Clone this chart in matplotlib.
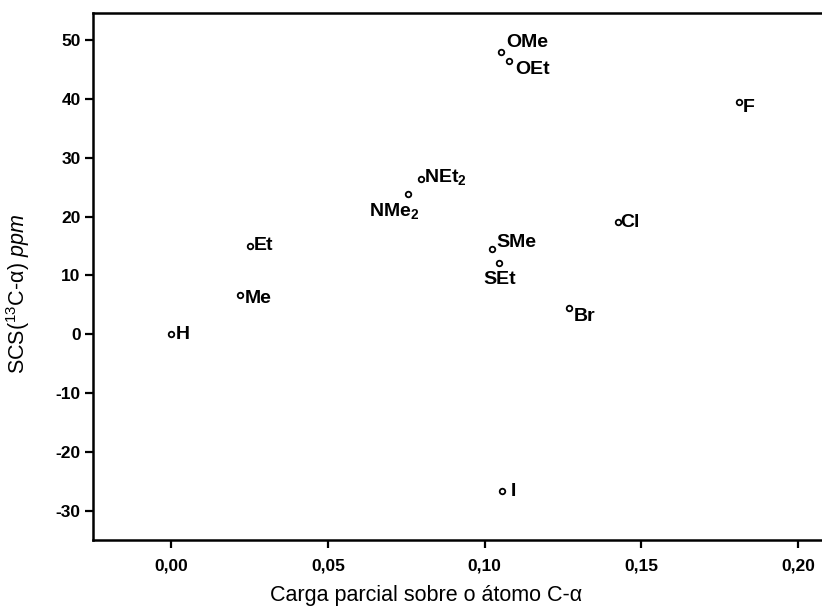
import matplotlib
matplotlib.use("Agg")
import matplotlib.pyplot as plt

plt.rcParams['font.family'] = ['Liberation Sans', 'DejaVu Sans']
plt.rcParams['mathtext.fontset'] = 'custom'
plt.rcParams['mathtext.rm'] = 'Liberation Sans'
plt.rcParams['mathtext.it'] = 'Liberation Sans:italic'
plt.rcParams['mathtext.bf'] = 'Liberation Sans:bold'
plt.rcParams['axes.unicode_minus'] = False

# substituent data: partial charge on C-alpha vs SCS(13C-alpha)
labels = ['H', 'Me', 'Et', r'NMe$_\mathbf{2}$', r'NEt$_\mathbf{2}$', 'OMe', 'OEt',
          'F', 'Cl', 'SMe', 'SEt', 'Br', 'I']
charge = [0.000, 0.022, 0.025, 0.0756, 0.0798, 0.1052, 0.1078,
          0.181, 0.1424, 0.1024, 0.1047, 0.127, 0.1055]
scs = [0.0, 6.6, 15.0, 23.9, 26.4, 47.9, 46.4,
       39.4, 19.0, 14.4, 12.1, 4.5, -26.6]

# label offsets in points (dx, dy, ha, va)
offsets = [(3, 0, 'left', 'center'), (3, -2, 'left', 'center'), (3, 0, 'left', 'center'),
           (-10, -5, 'center', 'top'), (2, 1, 'left', 'center'), (4, 7, 'left', 'center'),
           (4, -6, 'left', 'center'), (3, -4, 'left', 'center'), (2, 0, 'left', 'center'),
           (3, 5, 'left', 'center'), (0, -6, 'center', 'top'), (3, -6, 'left', 'center'),
           (6, -1, 'left', 'center')]

fig = plt.figure(figsize=(8.22, 6.13), dpi=100)
ax = fig.add_axes([93 / 822, 73 / 613, 736.5 / 822, 527 / 613])

ax.scatter(charge, scs, s=16, facecolors='white', edgecolors='black', linewidths=1.3, zorder=3)
for x, y, lab, (dx, dy, ha, va) in zip(charge, scs, labels, offsets):
    ax.annotate(lab, (x, y), xytext=(dx, dy), textcoords='offset points',
                ha=ha, va=va, fontsize=14, fontweight='bold')

ax.set_xlim(-0.025, 0.21)
ax.set_ylim(-35, 54.6)
ax.set_xticks([0.00, 0.05, 0.10, 0.15, 0.20])
ax.set_xticklabels(['0,00', '0,05', '0,10', '0,15', '0,20'])
ax.set_yticks([-30, -20, -10, 0, 10, 20, 30, 40, 50])

for side in ['left', 'bottom', 'top']:
    ax.spines[side].set_linewidth(1.8)
ax.spines['right'].set_visible(False)
ax.tick_params(direction='out', length=6, width=1.6, labelsize=12.5)
ax.tick_params(axis='y', pad=3)
ax.tick_params(axis='x', pad=7)
for t in ax.get_xticklabels() + ax.get_yticklabels():
    t.set_fontweight('bold')

ax.set_xlabel('Carga parcial sobre o átomo C-α', fontsize=15.5, va='top')
ax.xaxis.set_label_coords(0.452, -0.085)
ax.set_ylabel(r'SCS($^{13}$C-α) $\it{ppm}$', fontsize=15.5)
ax.yaxis.set_label_coords(-0.083, 0.467)

fig.savefig('out.png', dpi=100)
